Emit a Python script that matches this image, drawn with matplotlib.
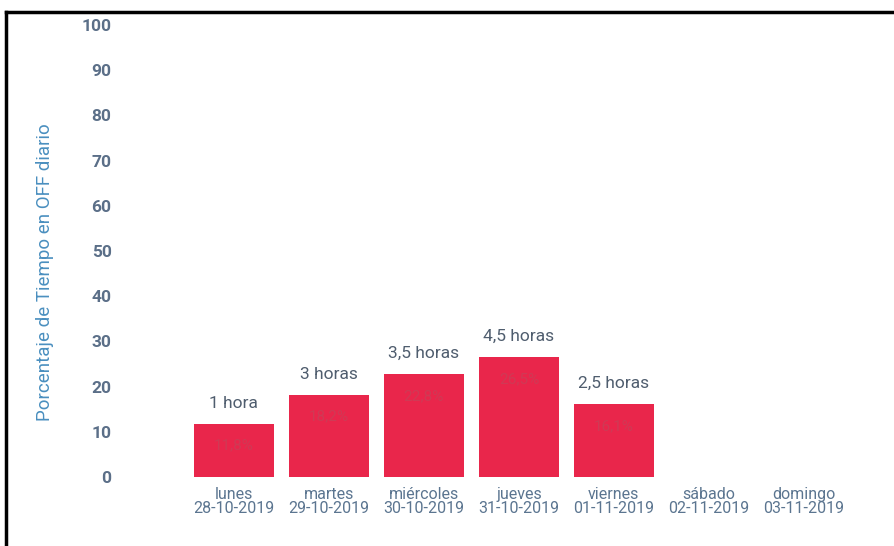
import matplotlib
matplotlib.use("Agg")
import matplotlib.pyplot as plt
from matplotlib.lines import Line2D

dias = ["lunes\n28-10-2019", "martes\n29-10-2019", "miércoles\n30-10-2019",
        "jueves\n31-10-2019", "viernes\n01-11-2019", "sábado\n02-11-2019",
        "domingo\n03-11-2019"]
porcentaje = [11.8, 18.2, 22.8, 26.5, 16.1]
horas = ["1 hora", "3 horas", "3,5 horas", "4,5 horas", "2,5 horas"]
etiquetas = ["11,8%", "18,2%", "22,8%", "26,5%", "16,1%"]
yticks = list(range(0, 101, 10))

plt.rcParams['font.family'] = ['Roboto', 'DejaVu Sans']

fig = plt.figure(figsize=(8.95, 5.46), dpi=100)
ax = fig.add_axes([0.134, 0.1264, 0.83, 0.8276])

x = list(range(len(porcentaje)))
bars = ax.bar(x, porcentaje, width=0.85, color="#e9264b", zorder=2)

for b, h, e in zip(bars, horas, etiquetas):
    cx = b.get_x() + b.get_width() / 2
    top = b.get_height()
    ax.annotate(h, (cx, top), xytext=(0, 13), textcoords="offset pixels",
                ha="center", va="bottom", fontsize=12.5, color="#4f5d6e")
    ax.annotate(e, (cx, top), xytext=(0, -22), textcoords="offset pixels",
                ha="center", va="center", fontsize=11, color="#cf3a55")

ax.set_xlim(-1.2, 6.62)
ax.set_ylim(0, 100)
ax.set_xticks(range(len(dias)))
ax.set_xticklabels(dias, fontsize=11.5, color="#5b7590", linespacing=0.9)
ax.set_yticks(yticks)
ax.set_yticklabels([str(v) for v in yticks], fontsize=12.5, color="#5b6f88",
                   fontweight="bold")
ax.tick_params(axis="both", length=0)
ax.tick_params(axis="x", pad=7)
ax.tick_params(axis="y", pad=6)
for s in ax.spines.values():
    s.set_visible(False)

ax.set_ylabel("Porcentaje de Tiempo en OFF diario", fontsize=13.5,
              color="#4a8fbf")
ax.yaxis.set_label_coords(-0.089, 0.454)

# marco negro (solo visible arriba e izquierda)
fig.add_artist(Line2D([6 / 895, 1.0], [1 - 12 / 546, 1 - 12 / 546],
                      transform=fig.transFigure, color="black", lw=2.5))
fig.add_artist(Line2D([6 / 895, 6 / 895], [0.0, 1 - 12 / 546],
                      transform=fig.transFigure, color="black", lw=2.5))

fig.savefig("out.png", dpi=100)
